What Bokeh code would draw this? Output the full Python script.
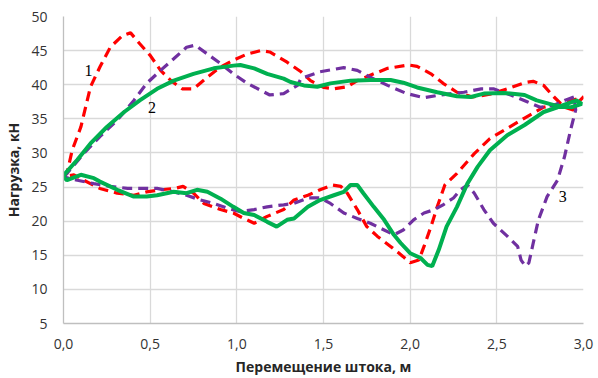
from bokeh.plotting import figure
from bokeh.embed import file_html
from bokeh.resources import INLINE
from bokeh.models import FixedTicker, Label
from bokeh.core.properties import value

# Curve 1 (red dashed)
x1 = [0.0, 0.02, 0.05, 0.10, 0.156, 0.21, 0.27, 0.34, 0.387, 0.44, 0.50, 0.56, 0.62, 0.685, 0.75, 0.83, 0.906, 0.98,
      1.06, 1.137, 1.19, 1.29, 1.37, 1.425, 1.50, 1.56, 1.637, 1.695, 1.77, 1.87, 1.99, 2.04, 2.12, 2.19, 2.27, 2.36,
      2.46, 2.56, 2.66, 2.71, 2.77, 2.83, 2.89, 2.94, 2.98, 3.0,
      2.88, 2.77, 2.66, 2.56, 2.46, 2.37, 2.27, 2.20, 2.156, 2.12, 2.08, 2.05, 2.0, 1.96, 1.887, 1.81, 1.75, 1.695,
      1.637, 1.60, 1.55, 1.48, 1.41, 1.33, 1.27, 1.175, 1.10, 1.04, 0.98, 0.906, 0.81, 0.75, 0.69, 0.64, 0.56, 0.48,
      0.406, 0.31, 0.21, 0.117, 0.06, 0.0]
y1 = [26.5, 27.0, 30.4, 33.8, 39.7, 42.6, 45.5, 47.2, 47.6, 46.0, 44.3, 42.1, 40.6, 39.4, 39.4, 41.1, 42.6, 43.6,
      44.5, 45.0, 44.8, 43.3, 41.9, 40.6, 39.6, 39.4, 39.7, 40.6, 41.4, 42.4, 42.9, 42.7, 41.6, 40.2, 38.9, 38.2,
      38.6, 39.4, 40.3, 40.5, 39.9, 38.2, 36.7, 36.3, 37.7, 38.2,
      37.3, 36.7, 35.1, 33.6, 32.1, 29.9, 27.0, 25.3, 22.1, 19.2, 16.3, 14.3, 13.9, 14.8, 16.3, 17.8, 19.2, 21.7,
      24.1, 25.1, 25.3, 24.6, 23.8, 23.1, 21.7, 20.7, 19.7, 20.4, 21.2, 21.7, 22.6, 24.1, 25.1, 24.8, 24.6, 24.3,
      23.8, 24.1, 24.8, 26.0, 26.8, 26.5]

# Curve 2 (green solid)
x2 = [0.0, 0.01, 0.08, 0.156, 0.25, 0.35, 0.44, 0.54, 0.636, 0.75, 0.867, 0.98, 1.02, 1.10, 1.175, 1.27, 1.31,
      1.387, 1.464, 1.54, 1.656, 1.77, 1.887, 1.96, 2.04, 2.156, 2.27, 2.35, 2.425, 2.54, 2.66, 2.73, 2.83, 2.93,
      2.99, 2.96, 2.85, 2.77, 2.66, 2.56, 2.46, 2.39, 2.33, 2.27, 2.21, 2.165, 2.127, 2.10, 2.06, 2.0, 1.945, 1.906,
      1.85, 1.79, 1.73, 1.695, 1.656, 1.617, 1.56, 1.48, 1.41, 1.33, 1.29, 1.23, 1.175, 1.10, 1.04, 0.98, 0.906,
      0.83, 0.77, 0.71, 0.636, 0.54, 0.48, 0.406, 0.31, 0.21, 0.175, 0.10, 0.02, 0.0]
y2 = [26.5, 27.0, 29.0, 31.4, 33.8, 36.0, 37.7, 39.4, 40.6, 41.6, 42.4, 42.8, 42.9, 42.4, 41.6, 40.9, 40.4,
      39.9, 39.7, 40.2, 40.6, 40.7, 40.7, 40.3, 39.6, 38.9, 38.3, 38.2, 38.7, 38.8, 38.5, 37.7, 37.0, 36.7,
      37.2, 37.7, 36.7, 36.0, 34.1, 32.6, 30.4, 28.0, 25.5, 22.1, 19.2, 15.8, 13.4, 13.6, 14.6, 15.3, 16.8, 18.0,
      20.2, 22.1, 24.1, 25.3, 25.3, 24.3, 23.8, 23.1, 22.1, 20.4, 20.2, 19.2, 19.9, 20.9, 21.2, 22.1, 23.3,
      24.3, 24.6, 24.1, 24.3, 23.8, 23.6, 23.6, 24.6, 25.8, 26.3, 26.8, 26.0, 26.5]

# Curve 3 (purple dashed)
x3 = [0.0, 0.02, 0.117, 0.21, 0.31, 0.406, 0.48, 0.56, 0.636, 0.71, 0.76, 0.83, 0.906, 0.98, 1.06, 1.137, 1.19,
      1.27, 1.35, 1.37, 1.48, 1.617, 1.695, 1.77, 1.87, 1.98, 2.08, 2.175, 2.31, 2.41, 2.48, 2.58, 2.675, 2.75,
      2.83, 2.89, 2.945, 2.955, 2.925, 2.89, 2.85, 2.79, 2.74, 2.71, 2.685, 2.665, 2.64, 2.62, 2.56, 2.48, 2.425,
      2.37, 2.33, 2.29, 2.25, 2.19, 2.14, 2.08, 2.02, 1.96, 1.906, 1.85, 1.77, 1.695, 1.617, 1.54, 1.48, 1.41, 1.33,
      1.27, 1.175, 1.10, 1.02, 0.945, 0.867, 0.79, 0.71, 0.636, 0.54, 0.44, 0.37, 0.27, 0.175, 0.08, 0.0]
y3 = [26.5, 27.0, 29.9, 32.4, 34.8, 37.7, 40.2, 42.1, 43.8, 45.5, 45.8, 44.5, 43.1, 41.6, 40.2, 39.2, 38.5,
      38.7, 39.9, 40.9, 41.9, 42.5, 42.1, 41.1, 39.9, 38.7, 38.1, 38.5, 38.9, 39.4, 39.4, 38.5, 37.5, 36.7,
      37.0, 37.7, 38.2, 36.3, 33.3, 29.4, 26.0, 23.6, 20.2, 16.8, 13.9, 13.4, 14.3, 16.3, 17.8, 19.7, 21.7,
      24.1, 25.3, 24.6, 23.4, 22.4, 21.7, 21.2, 20.2, 18.7, 18.0, 18.7, 19.7, 20.4, 21.2, 22.6, 23.4, 23.4, 22.6,
      22.4, 22.1, 21.7, 21.4, 21.9, 22.6, 23.1, 23.8, 24.3, 24.8, 24.8, 24.8, 25.1, 25.5, 26.0, 26.5]

x_ticks = [0.0, 0.5, 1.0, 1.5, 2.0, 2.5, 3.0]
x_tick_labels = ["0,0", "0,5", "1,0", "1,5", "2,0", "2,5", "3,0"]
y_ticks = [5, 10, 15, 20, 25, 30, 35, 40, 45, 50]

curve_labels = ["1", "2", "3"]
label_x = [0.144, 0.51, 2.88]
label_y = [42.1, 36.6, 23.6]

p = figure(width=598, height=378, x_range=(0, 3.0), y_range=(5, 50),
           output_backend="svg", toolbar_location=None,
           min_border_left=63, min_border_right=15, min_border_top=16, min_border_bottom=54)
p.outline_line_color = None
p.background_fill_color = "white"
p.border_fill_color = "white"

p.xaxis.ticker = FixedTicker(ticks=x_ticks)
p.xaxis.major_label_overrides = {t: l for t, l in zip(x_ticks, x_tick_labels)}
p.yaxis.ticker = FixedTicker(ticks=y_ticks)
p.xgrid.ticker = FixedTicker(ticks=x_ticks)
p.ygrid.ticker = FixedTicker(ticks=y_ticks)
p.grid.grid_line_color = "#d9d9d9"
p.grid.grid_line_width = 1.3

for ax in (p.xaxis, p.yaxis):
    ax.axis_line_color = "#bfbfbf"
    ax.axis_line_width = 1.3
    ax.major_tick_line_color = None
    ax.minor_tick_line_color = None
    ax.major_label_text_font = "Open Sans"
    ax.major_label_text_font_size = "14px"
    ax.major_label_text_color = "#333333"
    ax.axis_label_text_font = "Open Sans"
    ax.axis_label_text_font_size = "14px"
    ax.axis_label_text_font_style = "bold"
    ax.axis_label_text_color = "#262626"
p.xaxis.major_label_standoff = 9
p.yaxis.major_label_standoff = 10
p.xaxis.axis_label = "Перемещение штока, м"
p.yaxis.axis_label = "Нагрузка, кН"
p.xaxis.axis_label_standoff = 5
p.yaxis.axis_label_standoff = 5

p.line(x1, y1, line_color="#FF0000", line_width=3.2, line_dash="10 6")
p.line(x3, y3, line_color="#7030A0", line_width=3.2, line_dash="10 6")
p.line(x2, y2, line_color="#00B050", line_width=4)

for t, lx, ly in zip(curve_labels, label_x, label_y):
    p.add_layout(Label(x=lx, y=ly, text=t, text_font="Liberation Serif", text_font_size="16px",
                       text_color="#000000", text_align="center", text_baseline="middle"))

open("out.html", "w").write(file_html(p, INLINE))
